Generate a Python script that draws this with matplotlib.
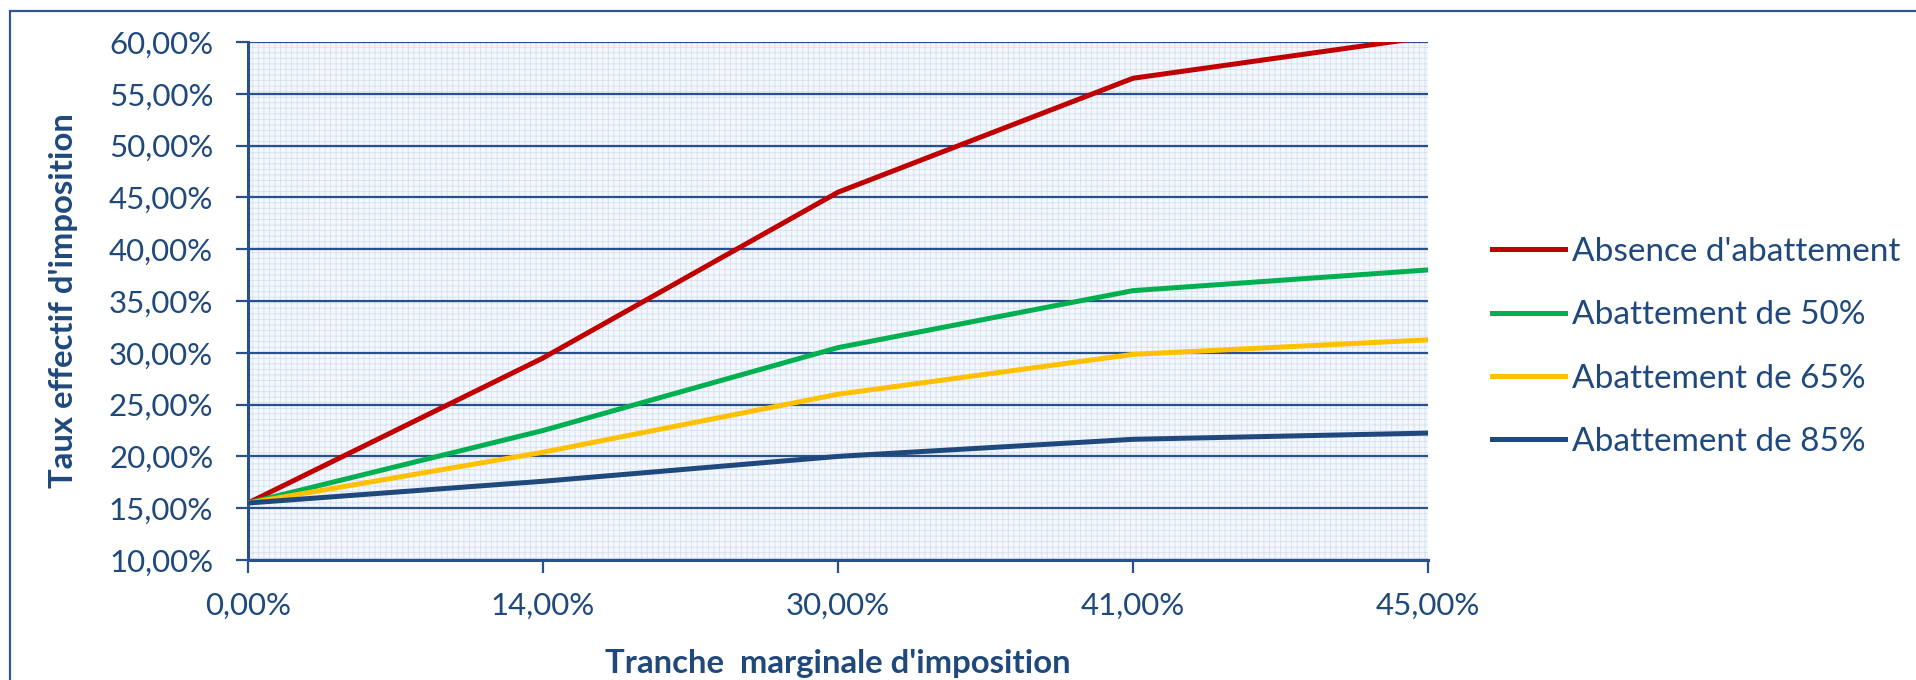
import matplotlib.pyplot as plt
from matplotlib.patches import Rectangle

# Tranches marginales (axe des catégories) et taux effectifs
tmi = ["0,00%", "14,00%", "30,00%", "41,00%", "45,00%"]
absence = [0.155, 0.295, 0.455, 0.565, 0.605]
abat_50 = [0.155, 0.225, 0.305, 0.360, 0.380]
abat_65 = [0.155, 0.204, 0.260, 0.2985, 0.3125]
abat_85 = [0.155, 0.176, 0.200, 0.2165, 0.2225]
y_ticks = [0.10, 0.15, 0.20, 0.25, 0.30, 0.35, 0.40, 0.45, 0.50, 0.55, 0.60]

bleu = "#1f497d"
plt.rcParams["font.family"] = ["Lato", "DejaVu Sans"]
plt.rcParams["hatch.linewidth"] = 0.6

W, H = 1916, 680
fig = plt.figure(figsize=(W / 100, H / 100), dpi=100)
ax = fig.add_axes([248 / W, 1 - 560 / H, (1428 - 248) / W, (560 - 42) / H])

# fond quadrillé de la zone de traçage
ax.set_facecolor("#f4f7fc")
ax.add_patch(Rectangle((0, 0), 1, 1, transform=ax.transAxes, facecolor="none",
                       edgecolor="#d5e0f0", hatch="+++", lw=0, zorder=0))

x = range(len(tmi))
ax.plot(x, absence, color="#c00000", lw=3.6, label="Absence d'abattement", zorder=5)
ax.plot(x, abat_50, color="#00b050", lw=3.6, label="Abattement de 50%", zorder=5)
ax.plot(x, abat_65, color="#ffc000", lw=3.6, label="Abattement de 65%", zorder=5)
ax.plot(x, abat_85, color=bleu, lw=3.6, label="Abattement de 85%", zorder=5)

ax.set_xlim(0, len(tmi) - 1)
ax.set_ylim(0.10, 0.60)
ax.set_xticks(list(x))
ax.set_xticklabels(tmi)
ax.set_yticks(y_ticks)
ax.set_yticklabels([("%.2f%%" % (v * 100)).replace(".", ",") for v in y_ticks])
ax.grid(axis="y", color="#28508a", lw=1.6, zorder=1)
ax.set_axisbelow(True)

for s in ["top", "right"]:
    ax.spines[s].set_visible(False)
for s in ["left", "bottom"]:
    ax.spines[s].set_color("#28508a")
    ax.spines[s].set_linewidth(2.2)
ax.tick_params(axis="both", colors="#28508a", length=9, width=1.6,
               labelcolor=bleu, labelsize=22.5)
ax.tick_params(axis="x", pad=14)
ax.tick_params(axis="y", pad=16)

ax.set_xlabel("Tranche  marginale d'imposition", fontsize=23.7, fontweight="bold",
              color=bleu, labelpad=21)
ax.set_ylabel("Taux effectif d'imposition", fontsize=23.7, fontweight="bold",
              color=bleu, labelpad=22)

leg = fig.legend(loc="center left", bbox_to_anchor=(1462 / W, 1 - 347 / H),
                 frameon=False, fontsize=24, handlelength=2.2, handletextpad=0.2,
                 labelspacing=1.0, labelcolor=bleu)
for h in leg.get_lines():
    h.set_linewidth(3.6)

# cadre du graphique
fig.patches.append(Rectangle((10 / W, -0.2), 2, 1.2 - 11 / H, transform=fig.transFigure,
                             fill=False, ec="#2f5592", lw=1.6))

fig.savefig("out.png", dpi=100)
